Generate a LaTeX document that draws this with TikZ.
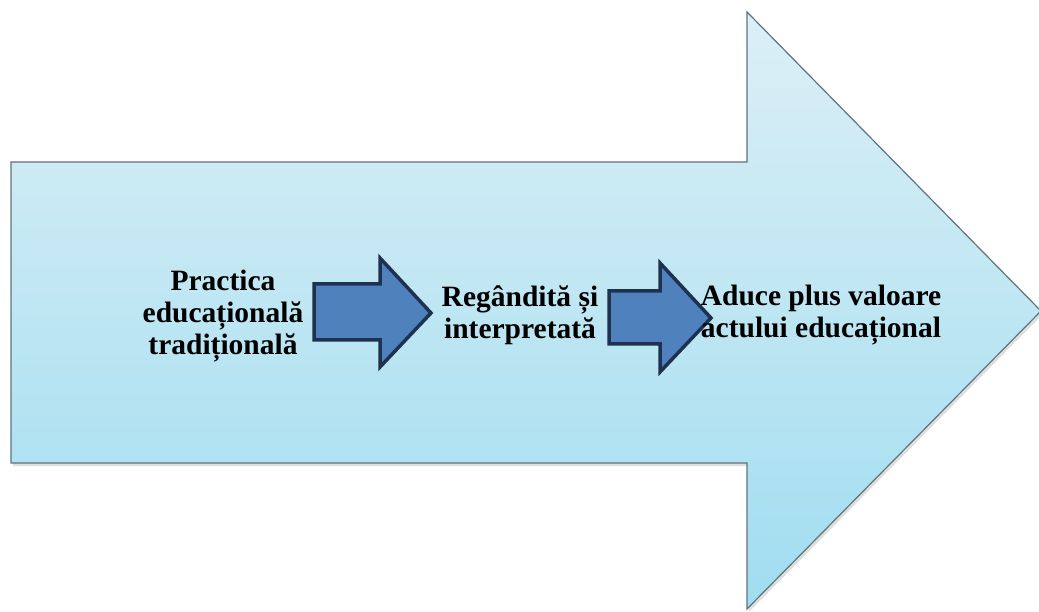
\documentclass[tikz,border=0pt]{standalone}
\usepackage{fontspec}
\setmainfont{Liberation Serif}
\usetikzlibrary{shadows}
\definecolor{bigtop}{RGB}{220,239,246}
\definecolor{bigbot}{RGB}{160,221,240}
\definecolor{bigline}{RGB}{95,115,125}
\definecolor{smallfill}{RGB}{79,129,189}
\definecolor{smallline}{RGB}{30,50,80}
\tikzset{
  bigarrow/.style={draw=bigline, line width=1.2pt, top color=bigtop, bottom color=bigbot,
    drop shadow={opacity=0.25, shadow xshift=2pt, shadow yshift=-3pt}},
  smallarrow/.style={draw=smallline, fill=smallfill, line width=3.5pt, line join=miter},
  label/.style={font=\bfseries\fontsize{29.5}{32}\selectfont, align=center, text=black, inner sep=0pt}
}
\begin{document}
\begin{tikzpicture}[x=1pt,y=-1pt]
\useasboundingbox (0,0) rectangle (1039,612);
% big arrow
\path[bigarrow] (11,162) -- (747,162) -- (747,12) -- (1041,311) -- (747,609) -- (747,463) -- (11,463) -- cycle;
% small arrows
\path[smallarrow] (314,284) -- (380,284) -- (380,258) -- (431,313) -- (380,367) -- (380,340) -- (314,340) -- cycle;
\path[smallarrow] (609,291) -- (660,291) -- (660,263) -- (711,318) -- (660,372) -- (660,344) -- (609,344) -- cycle;
% labels
\node[label] (t1) at (223,316) {Practica\\educațională\\tradițională};
\node[label] (t2) at (520,315) {Regândită și\\interpretată};
\node[label] (t3) at (821,315) {Aduce plus valoare\\actului educațional};
\end{tikzpicture}
\end{document}
